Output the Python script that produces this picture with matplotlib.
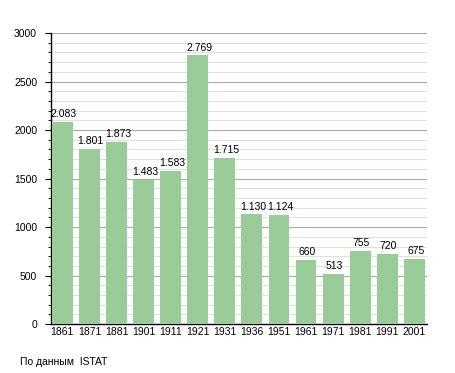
import matplotlib
matplotlib.use('Agg')
import matplotlib.pyplot as plt
from matplotlib.ticker import MultipleLocator

plt.rcParams['font.family'] = ['Liberation Sans', 'DejaVu Sans']

years = ['1861', '1871', '1881', '1901', '1911', '1921', '1931',
         '1936', '1951', '1961', '1971', '1981', '1991', '2001']
population = [2083, 1801, 1873, 1483, 1583, 2769, 1715,
              1130, 1124, 660, 513, 755, 720, 675]


def fmt(v):
    return f'{v:,}'.replace(',', '.')


fig = plt.figure(figsize=(4.55, 3.73), dpi=100)
ax = fig.add_axes([0.112, 0.131, 0.826, 0.7805])

x = range(len(years))
ax.bar(x, population, width=0.77, color='#99cc99', zorder=3)
for i, v in enumerate(population):
    ax.text(i + 0.05, v + 30, fmt(v), ha='center', va='bottom', fontsize=7.5, zorder=4)

ax.set_xlim(-0.42, 13.46)
ax.set_ylim(0, 3000)
ax.set_xticks(list(x))
ax.set_xticklabels(years, fontsize=7.5)
ax.yaxis.set_major_locator(MultipleLocator(500))
ax.yaxis.set_minor_locator(MultipleLocator(100))
ax.tick_params(axis='y', labelsize=7.5, length=4, direction='out', pad=6)
ax.tick_params(axis='y', which='minor', length=2)
ax.tick_params(axis='x', length=0, pad=2)

ax.grid(axis='y', which='major', color='#aaaaaa', linewidth=0.8, zorder=0)
ax.grid(axis='y', which='minor', color='#e0e0e0', linewidth=0.8, zorder=0)

for s in ['top', 'right']:
    ax.spines[s].set_visible(False)
ax.spines['left'].set_linewidth(1.0)
ax.spines['bottom'].set_linewidth(1.0)

fig.text(20 / 455, 1 - 362 / 373, 'По данным  ISTAT', fontsize=7.5, va='center')

fig.savefig('out.png', dpi=100)
